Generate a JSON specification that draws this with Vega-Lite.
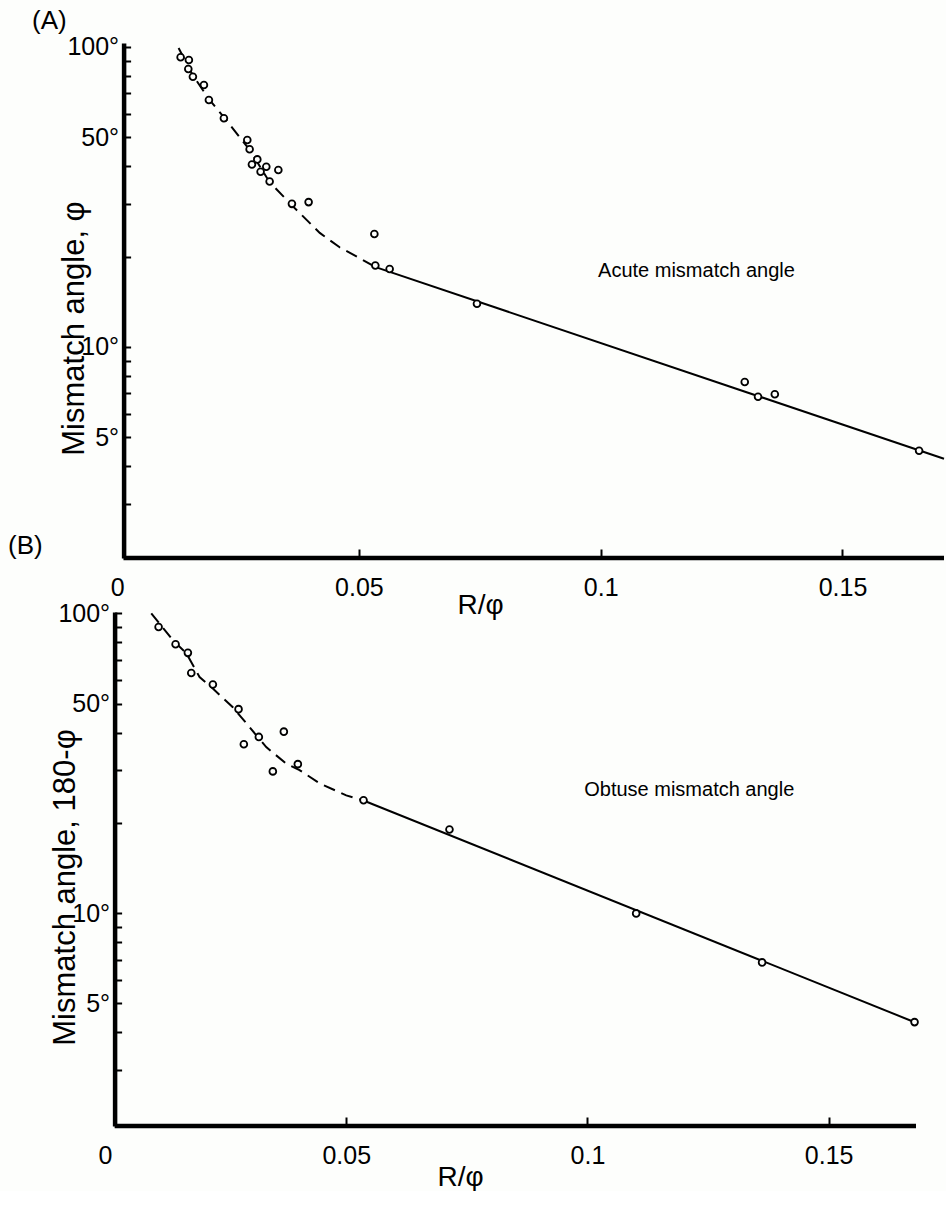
{
  "$schema": "https://vega.github.io/schema/vega-lite/v6.json",
  "background": "#fdfefc",
  "padding": {"left": 8, "top": 7, "right": 0, "bottom": 0},
  "bounds": "flush",
  "spacing": 54,
  "config": {
    "font": "Liberation Sans",
    "view": {"stroke": null},
    "axis": {
      "grid": false,
      "domainColor": "black",
      "domainWidth": 4.5,
      "tickColor": "black",
      "tickWidth": 2,
      "labelColor": "black",
      "labelFontSize": 25,
      "labelFont": "Liberation Sans",
      "titleColor": "black",
      "titleFontWeight": "normal",
      "titleFont": "Liberation Sans",
      "labelOverlap": false,
      "labelFlush": false
    },
    "title": {"fontSize": 26, "fontWeight": "normal", "color": "black", "anchor": "start", "frame": "group", "font": "Liberation Sans"}
  },
  "datasets": {
    "a_pts": [
      {"x": 0.01312, "y": 92.4}, {"x": 0.01483, "y": 90.5}, {"x": 0.01471, "y": 84.5},
      {"x": 0.01566, "y": 79.6}, {"x": 0.01794, "y": 74.7}, {"x": 0.01897, "y": 66.6},
      {"x": 0.02207, "y": 57.9}, {"x": 0.02691, "y": 49.0}, {"x": 0.02739, "y": 45.6},
      {"x": 0.02898, "y": 42.2}, {"x": 0.02787, "y": 40.6}, {"x": 0.03084, "y": 39.9},
      {"x": 0.02966, "y": 38.4}, {"x": 0.03333, "y": 38.9}, {"x": 0.03153, "y": 35.6},
      {"x": 0.03614, "y": 30.0}, {"x": 0.03959, "y": 30.4}, {"x": 0.05319, "y": 23.8},
      {"x": 0.05339, "y": 18.7}, {"x": 0.05635, "y": 18.2}, {"x": 0.07441, "y": 13.94},
      {"x": 0.12979, "y": 7.64}, {"x": 0.13254, "y": 6.83}, {"x": 0.13601, "y": 6.96},
      {"x": 0.16585, "y": 4.51}
    ],
    "a_dash": [
      {"x": 0.0127, "y": 99.2}, {"x": 0.0156, "y": 80.7}, {"x": 0.0191, "y": 66.6},
      {"x": 0.0222, "y": 58.0}, {"x": 0.0274, "y": 45.4}, {"x": 0.0315, "y": 35.5},
      {"x": 0.0361, "y": 29.7}, {"x": 0.0377, "y": 28.0}, {"x": 0.0419, "y": 24.0},
      {"x": 0.046, "y": 21.5}, {"x": 0.0501, "y": 19.8}, {"x": 0.0533, "y": 18.5}
    ],
    "a_solid": [{"x": 0.0533, "y": 18.5}, {"x": 0.171, "y": 4.24}],
    "a_text": [{"x": 0.1198, "y": 17.96, "label": "Acute mismatch angle"}],
    "b_pts": [
      {"x": 0.01111, "y": 90.0}, {"x": 0.01463, "y": 78.8}, {"x": 0.01718, "y": 73.8},
      {"x": 0.01788, "y": 63.2}, {"x": 0.02236, "y": 57.9}, {"x": 0.02768, "y": 47.9},
      {"x": 0.02878, "y": 36.6}, {"x": 0.03189, "y": 38.7}, {"x": 0.03707, "y": 40.3},
      {"x": 0.03479, "y": 29.7}, {"x": 0.03997, "y": 31.4}, {"x": 0.05359, "y": 23.8},
      {"x": 0.0714, "y": 19.0}, {"x": 0.1101, "y": 9.98}, {"x": 0.1362, "y": 6.85},
      {"x": 0.1678, "y": 4.33}
    ],
    "b_dash": [
      {"x": 0.00959, "y": 100}, {"x": 0.01407, "y": 81.3}, {"x": 0.01685, "y": 73.6},
      {"x": 0.0196, "y": 61.3}, {"x": 0.0223, "y": 56.2}, {"x": 0.02644, "y": 48.7},
      {"x": 0.02928, "y": 43.0}, {"x": 0.03342, "y": 35.8}, {"x": 0.03757, "y": 31.5},
      {"x": 0.04032, "y": 30.0}, {"x": 0.04447, "y": 27.1}, {"x": 0.05, "y": 24.7},
      {"x": 0.05344, "y": 23.8}
    ],
    "b_solid": [{"x": 0.05344, "y": 23.8}, {"x": 0.1681, "y": 4.31}],
    "b_text": [{"x": 0.1211, "y": 25.7, "label": "Obtuse mismatch angle"}]
  },
  "vconcat": [
    {
      "title": {"text": "(A)", "dx": -73, "offset": -25, "baseline": "bottom"},
      "width": 839,
      "height": 515,
      "layer": [
        {
          "data": {"name": "a_dash"},
          "mark": {"type": "line", "color": "black", "strokeWidth": 2, "strokeDash": [12, 7]},
          "encoding": {
            "x": {
              "field": "x", "type": "quantitative",
              "scale": {"domain": [-0.00252, 0.171], "nice": false, "zero": false},
              "axis": {
                "values": [0, 0.05, 0.1, 0.15], "format": ".2~f",
                "domain": false,
                "tickSize": -9, "labelPadding": 26,
                "tickOpacity": {"condition": {"test": "datum.value == 0", "value": 0}, "value": 1},
                "title": "R/φ", "titleFontSize": 28,
                "titleX": 375, "titleY": 47, "titleAlign": "center", "titleBaseline": "middle"
              }
            },
            "y": {
              "field": "y", "type": "quantitative",
              "scale": {"type": "log", "domain": [1.98, 103.1], "nice": false},
              "axis": {
                "values": [3, 4, 5, 6, 7, 8, 9, 10, 20, 30, 40, 50, 60, 70, 80, 90, 100],
                "labelExpr": "(datum.value == 5 || datum.value == 10 || datum.value == 50 || datum.value == 100) ? datum.value + '°' : ''",
                "offset": -18.6,
                "tickSize": -7, "labelPadding": 12,
                "title": "Mismatch angle, φ", "titleFontSize": 31, "titleAngle": 270,
                "titleX": -49, "titleY": 285, "titleAlign": "center", "titleBaseline": "middle"
              }
            }
          }
        },
        {
          "data": {"values": [{}]},
          "mark": {"type": "rule", "color": "black", "strokeWidth": 4.5},
          "encoding": {"x": {"datum": 0.0013, "type": "quantitative"}, "x2": {"datum": 0.171}, "y": {"datum": 1.98, "type": "quantitative"}}
        },
        {
          "data": {"name": "a_solid"},
          "mark": {"type": "line", "color": "black", "strokeWidth": 2},
          "encoding": {"x": {"field": "x", "type": "quantitative"}, "y": {"field": "y", "type": "quantitative"}}
        },
        {
          "data": {"name": "a_pts"},
          "mark": {"type": "point", "shape": "circle", "filled": false, "fill": "#fdfefc", "fillOpacity": 1, "stroke": "black", "strokeWidth": 1.8, "size": 46, "opacity": 1},
          "encoding": {"x": {"field": "x", "type": "quantitative"}, "y": {"field": "y", "type": "quantitative"}}
        },
        {
          "data": {"name": "a_text"},
          "mark": {"type": "text", "fontSize": 20, "align": "center", "baseline": "middle", "color": "black"},
          "encoding": {"x": {"field": "x", "type": "quantitative"}, "y": {"field": "y", "type": "quantitative"}, "text": {"field": "label"}}
        }
      ]
    },
    {
      "title": {"text": "(B)", "dx": -97, "offset": 16, "baseline": "bottom"},
      "width": 811,
      "height": 514,
      "layer": [
        {
          "data": {"name": "b_dash"},
          "mark": {"type": "line", "color": "black", "strokeWidth": 2, "strokeDash": [12, 7]},
          "encoding": {
            "x": {
              "field": "x", "type": "quantitative",
              "scale": {"domain": [0, 0.1681], "nice": false, "zero": false},
              "axis": {
                "values": [0, 0.05, 0.1, 0.15], "format": ".2~f",
                "domain": false,
                "tickSize": -9, "labelPadding": 26,
                "tickOpacity": {"condition": {"test": "datum.value == 0", "value": 0}, "value": 1},
                "title": "R/φ", "titleFontSize": 28,
                "titleX": 355, "titleY": 51, "titleAlign": "center", "titleBaseline": "middle"
              }
            },
            "y": {
              "field": "y", "type": "quantitative",
              "scale": {"type": "log", "domain": [1.95, 101], "nice": false},
              "axis": {
                "values": [3, 4, 5, 6, 7, 8, 9, 10, 20, 30, 40, 50, 60, 70, 80, 90, 100],
                "labelExpr": "(datum.value == 5 || datum.value == 10 || datum.value == 50 || datum.value == 100) ? datum.value + '°' : ''",
                "offset": -9.6,
                "tickSize": -7, "labelPadding": 12,
                "title": "Mismatch angle, 180-φ", "titleFontSize": 31, "titleAngle": 270,
                "titleX": -49, "titleY": 275, "titleAlign": "center", "titleBaseline": "middle"
              }
            }
          }
        },
        {
          "data": {"values": [{}]},
          "mark": {"type": "rule", "color": "black", "strokeWidth": 4.5},
          "encoding": {"x": {"datum": 0.002, "type": "quantitative"}, "x2": {"datum": 0.1681}, "y": {"datum": 1.95, "type": "quantitative"}}
        },
        {
          "data": {"name": "b_solid"},
          "mark": {"type": "line", "color": "black", "strokeWidth": 2},
          "encoding": {"x": {"field": "x", "type": "quantitative"}, "y": {"field": "y", "type": "quantitative"}}
        },
        {
          "data": {"name": "b_pts"},
          "mark": {"type": "point", "shape": "circle", "filled": false, "fill": "#fdfefc", "fillOpacity": 1, "stroke": "black", "strokeWidth": 1.8, "size": 46, "opacity": 1},
          "encoding": {"x": {"field": "x", "type": "quantitative"}, "y": {"field": "y", "type": "quantitative"}}
        },
        {
          "data": {"name": "b_text"},
          "mark": {"type": "text", "fontSize": 20, "align": "center", "baseline": "middle", "color": "black"},
          "encoding": {"x": {"field": "x", "type": "quantitative"}, "y": {"field": "y", "type": "quantitative"}, "text": {"field": "label"}}
        }
      ]
    }
  ]
}
